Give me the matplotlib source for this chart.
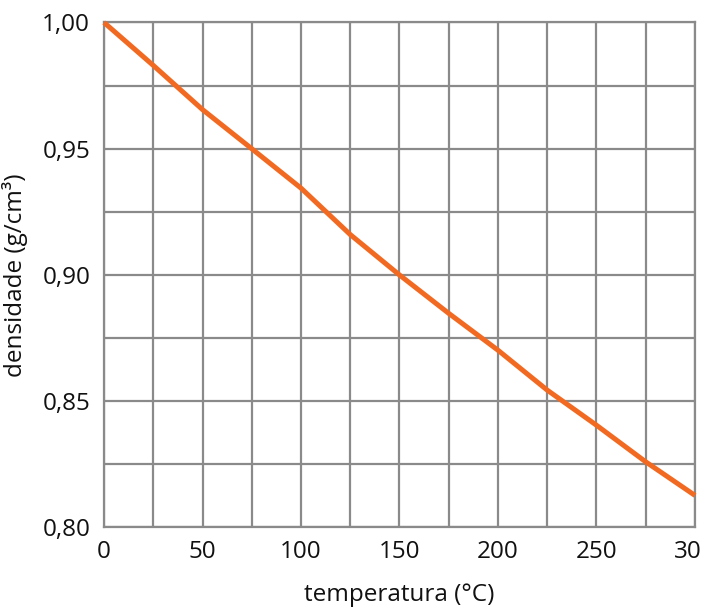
import matplotlib.pyplot as plt
import numpy as np

plt.rcParams["font.family"] = ["Open Sans", "DejaVu Sans"]

# dados
temperatura = [0, 25, 50, 75, 100, 125, 150, 175, 200, 225, 250, 275, 300]
densidade = [1.000, 0.983, 0.9655, 0.950, 0.9344, 0.916, 0.900, 0.8848,
             0.8702, 0.8544, 0.8405, 0.826, 0.8127]

x_ticks = np.arange(0, 301, 50)
y_ticks = [0.80, 0.85, 0.90, 0.95, 1.00]
y_labels = ["0,80", "0,85", "0,90", "0,95", "1,00"]

fig = plt.figure(figsize=(7.01, 6.16), dpi=100)
ax = fig.add_axes([0.1484, 0.1437, 0.9914 - 0.1484, 0.9635 - 0.1437])

grid_color = "#8a8a8a"
ax.set_xticks(np.arange(0, 301, 25), minor=True)
ax.set_yticks(np.arange(0.80, 1.001, 0.025), minor=True)
ax.grid(which="both", color=grid_color, linewidth=1.6)
ax.set_axisbelow(True)

ax.plot(temperatura, densidade, color="#f26a21", linewidth=3.6,
        solid_capstyle="butt", clip_on=False, zorder=3)

ax.set_xlim(0, 300)
ax.set_ylim(0.80, 1.00)
ax.set_xticks(x_ticks)
ax.set_xticklabels([str(v) for v in x_ticks])
ax.set_yticks(y_ticks)
ax.set_yticklabels(y_labels)
ax.tick_params(which="both", length=0, labelsize=17.5, colors="#111111", pad=9)
ax.tick_params(axis="y", pad=10)

for s in ax.spines.values():
    s.set_color(grid_color)
    s.set_linewidth(1.6)

ax.set_xlabel("temperatura (°C)", fontsize=17.5, labelpad=14, color="#111111")
ax.set_ylabel("densidade (g/cm³)", fontsize=17.5, labelpad=10, color="#111111")

fig.savefig("out.png", dpi=100)
